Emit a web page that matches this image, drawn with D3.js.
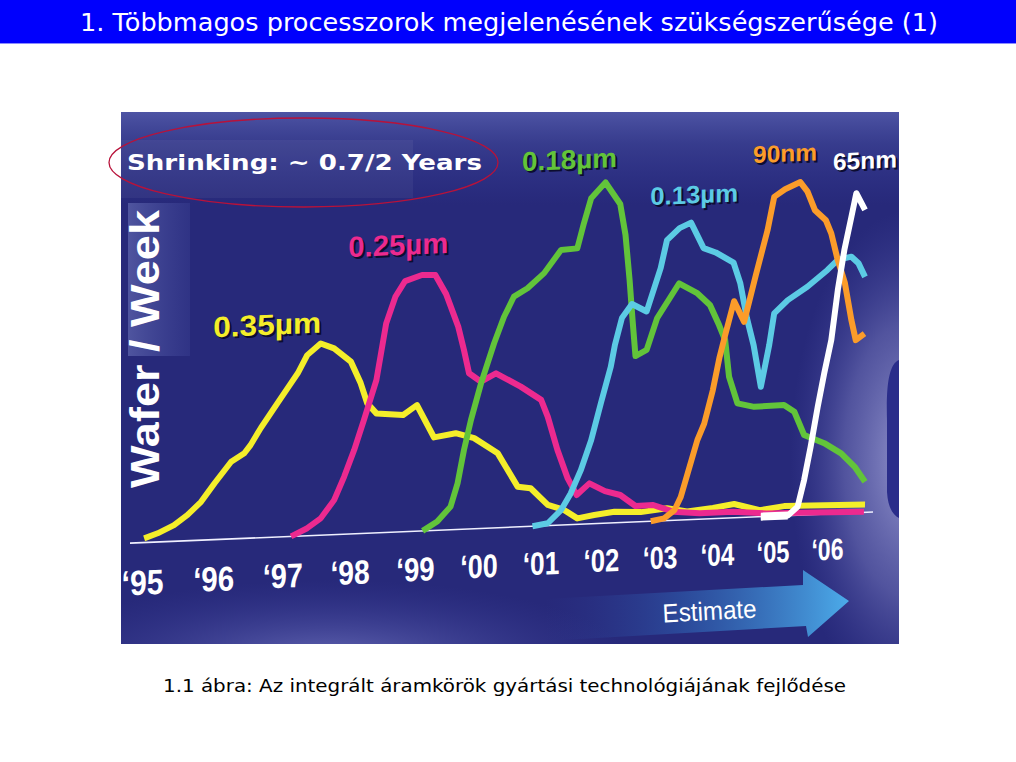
<!DOCTYPE html>
<html><head><meta charset="utf-8">
<script src="https://cdn.jsdelivr.net/npm/d3@7"></script>
<style>body{margin:0;background:#fff;} svg{display:block;}</style>
</head><body>
<svg id="c" width="1016" height="762"></svg>
<script>
// ---------- data ----------
const years = [1995,1996,1997,1998,1999,2000,2001,2002,2003,2004,2005,2006];
const yearLabels = ["‘95","‘96","‘97","‘98","‘99","‘00","‘01","‘02","‘03","‘04","‘05","‘06"];
const nodeNames = ["0.35µm","0.25µm","0.18µm","0.13µm","90nm","65nm"];
const labelYear  = [1996.0, 1997.98, 2000.70, 2002.84, 2004.65, 2006.11];
const labelValue = [67.5, 92.3, 118.6, 105.4, 118.0, 114.5];

const wafers035 = [[1995.03,1.4],[1995.22,2.9],[1995.45,5.4],[1995.64,8.6],[1995.83,12.8],[1996.02,18.8],[1996.26,25.7],[1996.45,28.4],[1996.54,31.0],[1996.69,36.6],[1996.93,44.6],[1997.23,54.3],[1997.37,60.2],[1997.57,63.9],[1997.77,62.1],[1998.02,57.4],[1998.17,50.1],[1998.27,43.3],[1998.41,39.8],[1998.82,38.9],[1999.03,42.0],[1999.30,31.0],[1999.64,32.1],[1999.93,30.2],[2000.31,24.8],[2000.63,13.4],[2000.84,12.7],[2001.12,6.9],[2001.39,5.0],[2001.61,2.0],[2001.89,2.9],[2002.23,3.7],[2002.68,3.2],[2003.13,4.1],[2003.48,2.8],[2003.93,3.6],[2004.31,4.6],[2004.77,2.2],[2005.21,3.2],[2006.70,2.6]];
const wafers025 = [[1997.13,0],[1997.37,2.5],[1997.57,5.6],[1997.77,11.5],[1997.92,19.2],[1998.07,27.9],[1998.22,37.8],[1998.41,50.9],[1998.56,69.7],[1998.70,78.4],[1998.85,83.5],[1999.11,85.3],[1999.32,85.1],[1999.49,78.6],[1999.68,67.6],[1999.77,59.7],[1999.85,51.9],[2000.04,48.9],[2000.28,51.5],[2000.68,46.7],[2001.01,42.0],[2001.12,36.3],[2001.28,25.1],[2001.45,15.5],[2001.60,9.8],[2001.81,13.5],[2002.07,10.7],[2002.33,9.2],[2002.59,5.3],[2002.89,5.4],[2003.24,2.9],[2003.70,2.0],[2004.29,2.0],[2004.89,1.0],[2005.50,0.8],[2006.68,0.2]];
const wafers018 = [[1999.12,0],[1999.35,2.9],[1999.56,7.7],[1999.67,15.4],[1999.77,26.4],[1999.88,36.3],[2000.04,48.4],[2000.25,61.5],[2000.41,70.2],[2000.57,76.8],[2000.79,79.4],[2001.06,84.2],[2001.34,91.7],[2001.61,92.0],[2001.72,100.3],[2001.84,108.5],[2002.08,113.6],[2002.33,106.2],[2002.42,95.8],[2002.49,80.7],[2002.54,67.4],[2002.59,55.3],[2002.78,57.2],[2002.96,67.7],[2003.34,78.9],[2003.65,75.5],[2003.88,71.3],[2004.04,64.5],[2004.15,59.4],[2004.22,47.1],[2004.37,38.1],[2004.67,36.7],[2005.21,36.9],[2005.40,34.5],[2005.58,26.6],[2005.95,23.6],[2006.26,20.0],[2006.51,15.3],[2006.70,10.2]];
const wafers013 = [[2000.87,0],[2001.12,0.8],[2001.34,5.0],[2001.50,10.4],[2001.67,18.1],[2001.84,27.9],[2002.00,40.0],[2002.17,52.1],[2002.24,59.3],[2002.36,68.2],[2002.53,72.7],[2002.78,70.0],[2003.02,84.3],[2003.13,93.5],[2003.35,97.3],[2003.55,99.0],[2003.77,90.3],[2003.98,88.7],[2004.30,85.1],[2004.42,78.2],[2004.54,66.4],[2004.66,57.3],[2004.79,43.3],[2004.94,57.1],[2005.03,67.6],[2005.28,71.8],[2005.64,76.0],[2006.01,81.3],[2006.20,84.5],[2006.45,85.4],[2006.58,83.1],[2006.70,78.5]];
const wafers090 = [[2002.85,0],[2003.08,0.8],[2003.26,3.4],[2003.37,7.7],[2003.49,15.4],[2003.66,26.4],[2003.78,31.8],[2003.93,42.8],[2004.05,53.8],[2004.15,61.0],[2004.31,72.2],[2004.49,65.2],[2004.70,80.6],[2004.91,95.4],[2005.03,106.4],[2005.23,108.8],[2005.51,111.0],[2005.64,107.8],[2005.78,101.4],[2005.98,97.9],[2006.08,93.4],[2006.19,85.1],[2006.33,76.7],[2006.45,64.2],[2006.53,57.5],[2006.69,59.6]];
const wafers065 = [[2004.79,0],[2005.28,0],[2005.46,2.8],[2005.58,11.6],[2005.70,22.6],[2005.83,35.8],[2005.95,46.9],[2006.08,57.9],[2006.20,74.5],[2006.32,87.7],[2006.45,98.7],[2006.54,106.5],[2006.70,100.8]];

const allSeries = [wafers035, wafers025, wafers018, wafers013, wafers090, wafers065];
const colors = ["#f4ee2a","#ec2a8f","#62c43a","#5ccbe4","#fb9c2a","#ffffff"];

// ---------- page ----------
const svg = d3.select("#c");
const defs = svg.append("defs");

function lin(id, x1,y1,x2,y2, stops){
  const g = defs.append("linearGradient").attr("id",id).attr("gradientUnits","userSpaceOnUse")
    .attr("x1",x1).attr("y1",y1).attr("x2",x2).attr("y2",y2);
  stops.forEach(s=>g.append("stop").attr("offset",s[0]).attr("stop-color",s[1]).attr("stop-opacity",s[2]));
}
function rad(id, stops){
  const g = defs.append("radialGradient").attr("id",id);
  stops.forEach(s=>g.append("stop").attr("offset",s[0]).attr("stop-color",s[1]).attr("stop-opacity",s[2]));
}
lin("topG",0,112,0,205,[[0,"#5a62b2",0.75],[0.35,"#4a52a4",0.45],[1,"#3a40a0",0]]);
rad("botG",[[0,"#6e72bc",0.85],[1,"#3a3e9a",0]]);
rad("rightG",[[0,"#a2a4d8",0.9],[0.55,"#7c7ec2",0.5],[1,"#4a4ea8",0]]);
lin("boxG",128,0,190,0,[[0,"#6a72b8",0.6],[1,"#4a52a6",0.25]]);
lin("arrowG",545,0,850,0,[[0,"#2e3c96",0],[0.45,"#2f64b4",0.55],[1,"#4cacea",1]]);

// title bar
svg.append("rect").attr("x",0).attr("y",0).attr("width",1016).attr("height",43).attr("fill","#0000fd");
svg.append("line").attr("x1",0).attr("x2",1016).attr("y1",43.5).attr("y2",43.5).attr("stroke","#8c8cff").attr("stroke-width",1);
svg.append("text").attr("x",509).attr("y",31).attr("text-anchor","middle")
  .attr("font-family","DejaVu Sans, Verdana, sans-serif").attr("font-size",24).attr("fill","#fff")
  .attr("textLength",858).attr("lengthAdjust","spacingAndGlyphs")
  .text("1. Többmagos processzorok megjelenésének szükségszerűsége (1)");

// chart picture
const FX=121, FY=112, FW=778, FH=532;
defs.append("clipPath").attr("id","frame").append("rect").attr("x",FX).attr("y",FY).attr("width",FW).attr("height",FH);
const pic = svg.append("g").attr("clip-path","url(#frame)");
pic.append("rect").attr("x",FX).attr("y",FY).attr("width",FW).attr("height",FH).attr("fill","#27297a");
pic.append("rect").attr("x",FX).attr("y",FY).attr("width",FW).attr("height",95).attr("fill","url(#topG)");
pic.append("rect").attr("x",FX).attr("y",140).attr("width",292).attr("height",58).attr("fill","#ffffff").attr("opacity",0.05);
pic.append("ellipse").attr("cx",330).attr("cy",660).attr("rx",300).attr("ry",80).attr("fill","url(#botG)");
pic.append("ellipse").attr("cx",910).attr("cy",460).attr("rx",120).attr("ry",250).attr("fill","url(#rightG)");
pic.append("path").attr("d","M899,360 C889,364 886,385 887,420 L887,492 C888,508 893,515 899,518 Z").attr("fill","#2a2d8a");
pic.append("rect").attr("x",128).attr("y",203).attr("width",62).attr("height",153).attr("fill","url(#boxG)");

// Estimate arrow
pic.append("path").attr("d","M545,599 L803,585 L803,570 L849,601 L808,637 L806,626 L545,641 Z").attr("fill","url(#arrowG)");
pic.append("text").attr("transform","translate(710,620) rotate(-3)").attr("text-anchor","middle")
  .attr("font-family","Liberation Sans, Arial, sans-serif").attr("font-size",26).attr("fill","#fff")
  .attr("textLength",94).attr("lengthAdjust","spacingAndGlyphs").text("Estimate");

// Wafer / Week
pic.append("text").attr("transform","translate(159,349) rotate(-90)").attr("text-anchor","middle")
  .attr("font-family","Liberation Sans, Arial, sans-serif").attr("font-weight","bold").attr("font-size",40)
  .attr("fill","#fff").attr("textLength",278).attr("lengthAdjust","spacingAndGlyphs").text("Wafer / Week");

// plot (slightly tilted picture plane)
const BASE = 543, SLOPE = 0.042, X0 = 134;
const plot = pic.append("g").attr("transform",`matrix(1,${-SLOPE},0,1,0,${SLOPE*X0})`);
const persp = t => 142 + 72.2*t/(1+0.0145*t);
const x = d3.scaleLinear().domain(years).range(years.map(yr=>persp(yr-years[0])));
const y = d3.scaleLinear().domain([0,120]).range([BASE, BASE-360]);

plot.append("line").attr("x1",130).attr("x2",873).attr("y1",BASE).attr("y2",BASE)
  .attr("stroke","#f0f0ff").attr("stroke-width",1.6);

// axis labels
const fs = d3.scaleLinear().domain([1995,2006]).range([35,30]);
const off = d3.scaleLinear().domain([1995,2006]).range([52,46]);
const tw = d3.scaleLinear().domain([1995,2006]).range([42,32]);
const ax = plot.append("g").attr("transform",`translate(0,${BASE})`)
  .call(d3.axisBottom(x).tickValues(years).tickFormat((d,i)=>yearLabels[i]).tickSize(0));
ax.select(".domain").remove();
ax.selectAll("text").attr("y",d=>off(d)).attr("dy",0)
  .attr("font-family","Liberation Sans Narrow, Arial Narrow, Liberation Sans, Arial, sans-serif")
  .attr("font-weight","bold").attr("font-size",d=>fs(d)).attr("fill","#fff")
  .attr("textLength",d=>tw(d)).attr("lengthAdjust","spacingAndGlyphs");

// lines
const line = d3.line().x(d=>x(d[0])).y(d=>y(d[1]));
allSeries.forEach((s,i)=>{
  plot.append("path").datum(s).attr("d",line).attr("fill","none")
    .attr("stroke",colors[i]).attr("stroke-width",6)
    .attr("stroke-linejoin","round").attr("stroke-linecap","butt");
});
// thicker flat start of the 65nm ramp
plot.append("path").datum(wafers065.slice(0,2)).attr("d",line).attr("fill","none")
  .attr("stroke",colors[5]).attr("stroke-width",8);

// node labels
const lfs = [29,29,27,25,24,24];
const lw = [108,100,95,88,64,64];
nodeNames.forEach((n,i)=>{
  [["#0c0c30",2,2],[colors[i],0,0]].forEach(([c,dx,dy])=>{
    plot.append("text").attr("x",x(labelYear[i])+dx).attr("y",y(labelValue[i])+dy)
      .attr("font-family","Liberation Sans Narrow, Arial Narrow, Liberation Sans, Arial, sans-serif")
      .attr("font-weight","bold").attr("font-size",lfs[i]).attr("fill",c)
      .attr("textLength",lw[i]).attr("lengthAdjust","spacingAndGlyphs").text(n);
  });
});

// Shrinking annotation
svg.append("text").attr("x",127).attr("y",170)
  .attr("font-family","DejaVu Sans, Verdana, sans-serif").attr("font-weight","bold").attr("font-size",22)
  .attr("fill","#fff").attr("textLength",355).attr("lengthAdjust","spacingAndGlyphs")
  .text("Shrinking: ~ 0.7/2 Years");
svg.append("ellipse").attr("cx",303.5).attr("cy",162.5).attr("rx",194.5).attr("ry",44.5)
  .attr("fill","none").attr("stroke","#b8123a").attr("stroke-width",1.3);

// caption
svg.append("text").attr("x",504.5).attr("y",692).attr("text-anchor","middle")
  .attr("font-family","DejaVu Sans, Verdana, sans-serif").attr("font-size",18).attr("fill","#000")
  .attr("textLength",683).attr("lengthAdjust","spacingAndGlyphs")
  .text("1.1 ábra: Az integrált áramkörök gyártási technológiájának fejlődése");
</script>
</body></html>
